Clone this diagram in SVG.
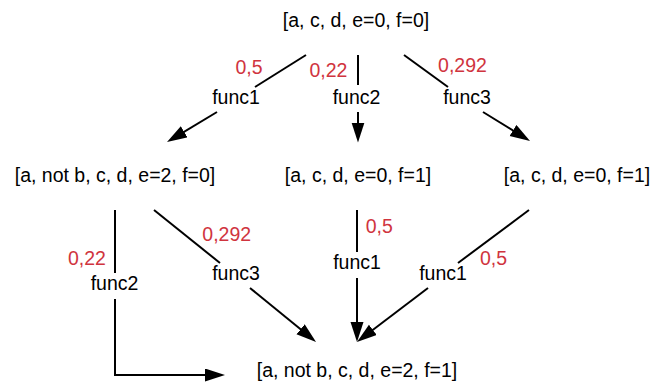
<svg xmlns="http://www.w3.org/2000/svg" width="653" height="385" viewBox="0 0 653 385">
<style>
text{font-family:"Liberation Sans",Arial,sans-serif;font-size:19.5px;text-anchor:middle;fill:#000}
.p{fill:#d0343e}
.c line,.c polyline{stroke:#000;stroke-width:2;fill:none}
</style>
<defs>
<marker id="ah" markerUnits="userSpaceOnUse" markerWidth="22" markerHeight="14" refX="6" refY="6.5" orient="auto">
<path d="M0,0 L20,6.5 L0,13 z" fill="#000"/>
</marker>
</defs>
<rect width="653" height="385" fill="#fff"/>
<g id="n0"><text x="356" y="26.5">[a, c, d, e=0, f=0]</text></g>
<g id="n1"><text x="115" y="182">[a, not b, c, d, e=2, f=0]</text></g>
<g id="n2"><text x="358" y="182">[a, c, d, e=0, f=1]</text></g>
<g id="n3"><text x="577" y="182">[a, c, d, e=0, f=1]</text></g>
<g id="n4"><text x="357" y="377">[a, not b, c, d, e=2, f=1]</text></g>
<g id="connectors" class="c">
<line x1="306" y1="55" x2="255" y2="87"/>
<line x1="217" y1="112" x2="179" y2="134.8" marker-end="url(#ah)"/>
<line x1="358" y1="55" x2="358" y2="85"/>
<line x1="358" y1="112" x2="358" y2="128.5" marker-end="url(#ah)"/>
<line x1="404" y1="55" x2="448" y2="87"/>
<line x1="483" y1="112" x2="518.1" y2="133.6" marker-end="url(#ah)"/>
<line x1="115" y1="210" x2="115" y2="273"/>
<polyline points="115,299 115,375 211,375" marker-end="url(#ah)"/>
<line x1="154" y1="210" x2="220" y2="263"/>
<line x1="250" y1="288" x2="305.2" y2="333.1" marker-end="url(#ah)"/>
<line x1="357" y1="210" x2="357" y2="252"/>
<line x1="357" y1="278" x2="357" y2="328" marker-end="url(#ah)"/>
<line x1="529" y1="210" x2="458" y2="263"/>
<line x1="428" y1="288" x2="368.1" y2="333.5" marker-end="url(#ah)"/>
</g>
<g id="labels">
<text x="236" y="103.5">func1</text>
<text class="p" x="249" y="73.5">0,5</text>
<text x="356.5" y="104">func2</text>
<text class="p" x="328.5" y="77">0,22</text>
<text x="467" y="103.5">func3</text>
<text class="p" x="462.5" y="72">0,292</text>
<text x="114.5" y="290">func2</text>
<text class="p" x="87" y="264.5">0,22</text>
<text x="236" y="279.5">func3</text>
<text class="p" x="226.7" y="241">0,292</text>
<text x="357" y="269">func1</text>
<text class="p" x="379.3" y="233">0,5</text>
<text x="443" y="280">func1</text>
<text class="p" x="493.5" y="265">0,5</text>
</g>
</svg>
